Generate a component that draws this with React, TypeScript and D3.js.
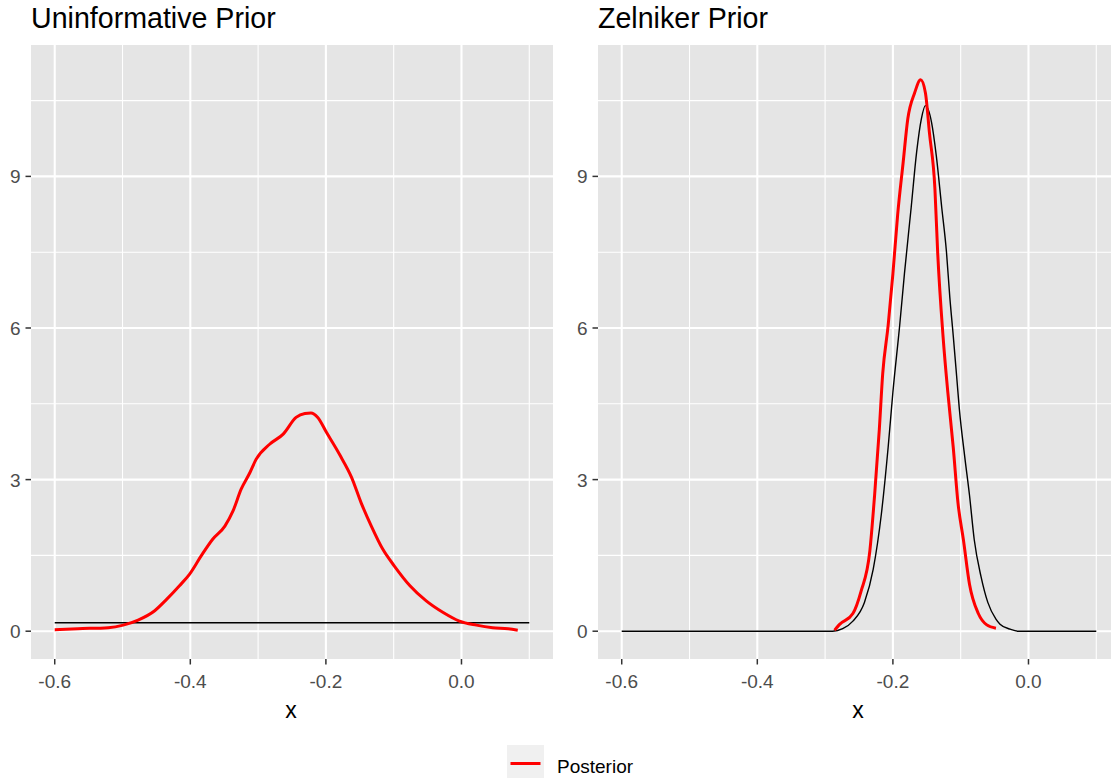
import React from "react";
import * as d3 from "d3";

// ---- data ----
const panelTitles = ["Uninformative Prior", "Zelniker Prior"];
const xTicks = [-0.6, -0.4, -0.2, 0.0];
const xMinor = [-0.5, -0.3, -0.1, 0.1];
const yTicks = [0, 3, 6, 9];
const yMinor = [1.5, 4.5, 7.5, 10.5];

// Uninformative prior panel
const uninfPosteriorX = [-0.6, -0.566, -0.521, -0.499, -0.477, -0.453, -0.435, -0.416, -0.401, -0.384, -0.367, -0.349, -0.337, -0.325, -0.312, -0.303, -0.283, -0.263, -0.244, -0.231, -0.222, -0.212, -0.199, -0.18, -0.162, -0.148, -0.133, -0.116, -0.099, -0.076, -0.052, -0.027, -0.003, 0.022, 0.046, 0.069, 0.083];
const uninfPosteriorY = [0.03, 0.05, 0.07, 0.12, 0.22, 0.40, 0.63, 0.90, 1.13, 1.49, 1.82, 2.08, 2.38, 2.81, 3.14, 3.40, 3.70, 3.90, 4.23, 4.31, 4.32, 4.23, 3.93, 3.50, 3.04, 2.54, 2.08, 1.62, 1.29, 0.90, 0.60, 0.37, 0.20, 0.12, 0.07, 0.05, 0.02];
const uninfPriorX = [-0.6, 0.1];
const uninfPriorY = [0.167, 0.167];

// Zelniker prior panel
const zelPosteriorX = [-0.286, -0.279, -0.259, -0.247, -0.234, -0.227, -0.22, -0.215, -0.207, -0.2, -0.193, -0.185, -0.178, -0.168, -0.159, -0.152, -0.146, -0.138, -0.134, -0.126, -0.119, -0.111, -0.104, -0.096, -0.087, -0.074, -0.062, -0.048];
const zelPosteriorY = [0.02, 0.13, 0.35, 0.79, 1.59, 2.69, 4.0, 5.1, 6.05, 7.07, 8.24, 9.26, 10.14, 10.65, 10.91, 10.65, 9.85, 8.75, 7.51, 5.83, 4.73, 3.64, 2.54, 1.81, 0.93, 0.35, 0.13, 0.06];
const zelPriorX = [-0.6, -0.289, -0.274, -0.259, -0.242, -0.229, -0.217, -0.207, -0.2, -0.19, -0.183, -0.173, -0.165, -0.158, -0.152, -0.143, -0.136, -0.128, -0.121, -0.116, -0.111, -0.106, -0.102, -0.094, -0.087, -0.08, -0.07, -0.06, -0.048, -0.042, -0.027, -0.015, 0.1];
const zelPriorY = [0, 0, 0.05, 0.2, 0.57, 1.23, 2.32, 3.64, 4.73, 6.05, 7.07, 8.39, 9.48, 10.14, 10.40, 10.07, 9.41, 8.39, 7.51, 6.6, 5.85, 5.05, 4.4, 3.45, 2.69, 1.81, 1.08, 0.57, 0.24, 0.14, 0.04, 0, 0];

const legendLabel = "Posterior";

type Pt = [number, number];
const zip = (xs: number[], ys: number[]): Pt[] => xs.map((x, i) => [x, ys[i]]);

const FONT = "'Liberation Sans', Arial, Helvetica, sans-serif";
const W = 1111;
const H = 778;
const PANEL_TOP = 45;
const PANEL_BOTTOM = 659;
const panels = [
  { left: 31, right: 553, title: panelTitles[0], post: zip(uninfPosteriorX, uninfPosteriorY), prior: zip(uninfPriorX, uninfPriorY) },
  { left: 598, right: 1120, title: panelTitles[1], post: zip(zelPosteriorX, zelPosteriorY), prior: zip(zelPriorX, zelPriorY) },
];

const y = d3.scaleLinear().domain([-0.55, 11.6]).range([PANEL_BOTTOM, PANEL_TOP]);

export default function App() {
  return (
    <svg width={W} height={H} style={{ position: "absolute", left: 0, top: 0, background: "#fff" }} fontFamily={FONT}>
      {panels.map((p, pi) => {
        const x = d3.scaleLinear().domain([-0.635, 0.135]).range([p.left, p.right]);
        const line = d3.line<Pt>().x((d) => x(d[0])).y((d) => y(d[1])).curve(d3.curveMonotoneX);
        return (
          <g key={pi}>
            <text x={p.left} y={28} fontSize={28.6} fill="#000">{p.title}</text>
            <rect x={p.left} y={PANEL_TOP} width={p.right - p.left} height={PANEL_BOTTOM - PANEL_TOP} fill="#E5E5E5" />
            {yMinor.map((v) => (
              <line key={"ym" + v} x1={p.left} x2={p.right} y1={y(v)} y2={y(v)} stroke="#fff" strokeWidth={1.1} />
            ))}
            {xMinor.map((v) => (
              <line key={"xm" + v} x1={x(v)} x2={x(v)} y1={PANEL_TOP} y2={PANEL_BOTTOM} stroke="#fff" strokeWidth={1.1} />
            ))}
            {yTicks.map((v) => (
              <line key={"yM" + v} x1={p.left} x2={p.right} y1={y(v)} y2={y(v)} stroke="#fff" strokeWidth={2.1} />
            ))}
            {xTicks.map((v) => (
              <line key={"xM" + v} x1={x(v)} x2={x(v)} y1={PANEL_TOP} y2={PANEL_BOTTOM} stroke="#fff" strokeWidth={2.1} />
            ))}
            <path d={line(p.prior) || ""} fill="none" stroke="#000" strokeWidth={1.4} />
            <path d={line(p.post) || ""} fill="none" stroke="#FF0000" strokeWidth={3} strokeLinejoin="round" />
            {/* y axis */}
            {yTicks.map((v) => (
              <g key={"yt" + v}>
                <line x1={p.left - 5.5} x2={p.left} y1={y(v)} y2={y(v)} stroke="#333" strokeWidth={1.5} />
                <text x={p.left - 10.5} y={y(v) + 7} fontSize={19} fill="#4D4D4D" textAnchor="end">{d3.format("d")(v)}</text>
              </g>
            ))}
            {/* x axis */}
            {xTicks.map((v) => (
              <g key={"xt" + v}>
                <line x1={x(v)} x2={x(v)} y1={PANEL_BOTTOM} y2={PANEL_BOTTOM + 5.5} stroke="#333" strokeWidth={1.5} />
                <text x={x(v)} y={688} fontSize={19} fill="#4D4D4D" textAnchor="middle">{d3.format(".1f")(v).replace("−", "-")}</text>
              </g>
            ))}
            <text x={(p.left + p.right) / 2 - 1} y={718} fontSize={23} fill="#000" textAnchor="middle">x</text>
          </g>
        );
      })}
      {/* legend */}
      <rect x={507} y={745} width={37} height={37} fill="#F0F0F0" />
      <line x1={510.5} x2={540.5} y1={763.5} y2={763.5} stroke="#FF0000" strokeWidth={3} />
      <text x={557} y={773} fontSize={19} fill="#000">{legendLabel}</text>
    </svg>
  );
}
